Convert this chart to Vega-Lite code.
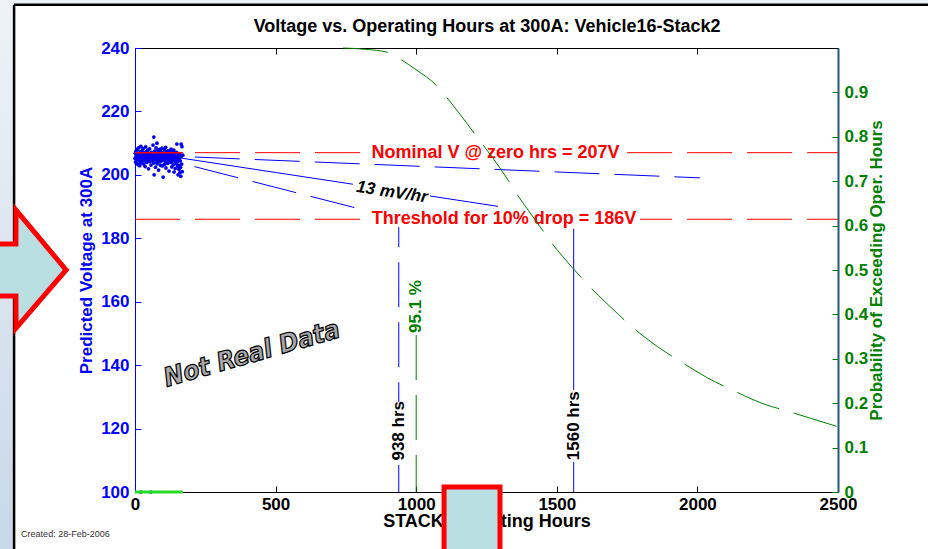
{
"$schema":"https://vega.github.io/schema/vega-lite/v6.json",
"width":703,"height":444,
"autosize":{"type":"none"},
"padding":{"left":135,"top":48,"right":90,"bottom":57},
"background":"white",
"config":{"font":"Liberation Sans","view":{"stroke":null},
 "axis":{"grid":false,"labelFont":"Liberation Sans","titleFont":"Liberation Sans","labelFontWeight":"bold","labelFontSize":17,"titleFontWeight":"bold","labelFlush":false,"labelOverlap":false,"tickSize":-6,"tickWidth":1,"domainWidth":1}},
"datasets":{
 "boxes":[
  {"k":"left","h":-560,"h2":-430,"v":270,"v2":60},
  {"k":"top","h":-430,"h2":2950,"v":270,"v2":253.6},
  {"k":"cover","h":1099,"h2":1298,"v":101.6,"v2":70}
 ],
 "frame":[
  {"h":-430,"h2":-430,"v":253.6,"v2":60},
  {"h":-430,"h2":2950,"v":253.6,"v2":253.6}
 ],
 "arrow":[
  {"h":-500,"v":178.2,"v2":161.8},
  {"h":-423.5,"v":178.2,"v2":161.8},
  {"h":-423,"v":188.9,"v2":151.7},
  {"h":-245,"v":170.0,"v2":170.0}
 ],
 "segs":[
  {"s":"nomA","h":0,"v":207,"h2":818,"v2":207},
  {"s":"nomB","h":1750,"v":207,"h2":2500,"v2":207},
  {"s":"thrA","h":0,"v":186,"h2":821,"v2":186},
  {"s":"thrB","h":1796,"v":186,"h2":2500,"v2":186},
  {"s":"red","h":0,"v":207,"h2":170,"v2":207},
  {"s":"fit1","h":160,"v":205.34,"h2":775,"v2":197.04},
  {"s":"fit2","h":1049,"v":193.34,"h2":1291,"v2":190.07},
  {"s":"v1560a","h":1560,"v":183,"h2":1560,"v2":132.2},
  {"s":"v1560b","h":1560,"v":109.5,"h2":1560,"v2":100},
  {"s":"up","h":170,"v":205.78,"h2":2009,"v2":199.05},
  {"s":"lo","h":170,"v":203.54,"h2":830,"v2":188.56},
  {"s":"v938a","h":938,"v":183.5,"h2":938,"v2":128.4},
  {"s":"v938b","h":938,"v":108.5,"h2":938,"v2":100},
  {"s":"g1000","h":1000,"v":149.5,"h2":1000,"v2":100},
  {"s":"lime","h":0,"v":100,"h2":170,"v2":100}
 ],
 "labels":[
  {"k":"title","h":1252,"v":246.5,"t":"Voltage vs. Operating Hours at 300A: Vehicle16-Stack2"},
  {"k":"red","h":1282,"v":207,"t":"Nominal V @ zero hrs = 207V"},
  {"k":"red","h":1312,"v":186,"t":"Threshold for 10% drop = 186V"},
  {"k":"slope","h":914,"v":194.5,"t":"13 mV/hr"},
  {"k":"vert","h":938,"v":119.3,"t":"938 hrs"},
  {"k":"vert","h":1560,"v":120.9,"t":"1560 hrs"},
  {"k":"green","h":1000,"v":158.5,"t":"95.1 %"},
  {"k":"wm","h":416,"v":143.5,"t":"Not Real Data"},
  {"k":"created","h":-405,"v":86.75,"t":"Created: 28-Feb-2006"}
 ],
 "prob":[
  {"h":740,"p":1.0},{"h":820,"p":0.997},{"h":900,"p":0.990},{"h":948,"p":0.973},{"h":1000,"p":0.951},
  {"h":1073,"p":0.915},{"h":1108,"p":0.889},{"h":1203,"p":0.811},{"h":1322,"p":0.707},{"h":1351,"p":0.678},
  {"h":1440,"p":0.598},{"h":1470,"p":0.571},{"h":1560,"p":0.502},{"h":1606,"p":0.470},{"h":1719,"p":0.400},
  {"h":1760,"p":0.376},{"h":1885,"p":0.316},{"h":1932,"p":0.297},{"h":2063,"p":0.248},{"h":2110,"p":0.234},
  {"h":2246,"p":0.196},{"h":2294,"p":0.187},{"h":2500,"p":0.147}
 ],
 "scatter":[
  {"h":0,"v":205.2},{"h":1,"v":206.8},{"h":2,"v":204.1},{"h":3,"v":207.5},{"h":4,"v":205.9},{"h":5,"v":203.6},{"h":6,"v":206.3},{"h":7,"v":208.1},{"h":8,"v":204.8},{"h":9,"v":205.5},
  {"h":10,"v":207.9},{"h":11,"v":203.2},{"h":12,"v":206.0},{"h":13,"v":205.1},{"h":14,"v":208.6},{"h":15,"v":204.4},{"h":16,"v":206.7},{"h":17,"v":202.9},{"h":18,"v":205.8},{"h":19,"v":207.2},
  {"h":20,"v":204.0},{"h":21,"v":209.0},{"h":22,"v":205.4},{"h":23,"v":206.9},{"h":24,"v":203.8},{"h":25,"v":207.6},{"h":26,"v":205.0},{"h":27,"v":204.6},{"h":28,"v":206.2},{"h":29,"v":208.3},
  {"h":30,"v":205.7},{"h":31,"v":203.4},{"h":32,"v":206.5},{"h":33,"v":204.9},{"h":34,"v":207.0},{"h":35,"v":205.3},{"h":36,"v":202.6},{"h":37,"v":206.1},{"h":38,"v":208.8},{"h":39,"v":204.3},
  {"h":40,"v":205.9},{"h":41,"v":207.4},{"h":42,"v":203.9},{"h":43,"v":206.6},{"h":44,"v":205.2},{"h":45,"v":204.7},{"h":46,"v":207.8},{"h":47,"v":205.6},{"h":48,"v":201.9},{"h":49,"v":206.4},
  {"h":50,"v":205.0},{"h":52,"v":208.2},{"h":53,"v":204.2},{"h":55,"v":206.8},{"h":56,"v":205.5},{"h":57,"v":203.1},{"h":58,"v":207.1},{"h":60,"v":205.8},{"h":61,"v":204.5},{"h":62,"v":206.3},
  {"h":64,"v":209.4},{"h":65,"v":205.1},{"h":66,"v":203.7},{"h":67,"v":211.9},{"h":68,"v":200.0},{"h":69,"v":206.0},{"h":70,"v":207.5},{"h":71,"v":204.8},{"h":72,"v":205.9},{"h":73,"v":202.4},
  {"h":74,"v":206.7},{"h":75,"v":208.5},{"h":76,"v":204.0},{"h":77,"v":205.4},{"h":78,"v":210.0},{"h":79,"v":203.5},{"h":80,"v":206.2},{"h":81,"v":205.0},{"h":82,"v":207.7},{"h":83,"v":204.6},
  {"h":84,"v":201.5},{"h":85,"v":206.9},{"h":86,"v":205.3},{"h":87,"v":208.0},{"h":88,"v":204.1},{"h":89,"v":206.5},{"h":90,"v":205.7},{"h":91,"v":203.0},{"h":92,"v":207.3},{"h":93,"v":205.2},
  {"h":94,"v":204.4},{"h":95,"v":206.1},{"h":96,"v":208.4},{"h":97,"v":202.8},{"h":98,"v":205.8},{"h":99,"v":207.0},{"h":100,"v":199.3},{"h":101,"v":204.9},{"h":102,"v":206.6},{"h":103,"v":205.4},
  {"h":104,"v":203.3},{"h":105,"v":207.9},{"h":106,"v":205.0},{"h":107,"v":204.3},{"h":108,"v":206.4},{"h":109,"v":208.7},{"h":110,"v":202.2},{"h":111,"v":205.6},{"h":112,"v":207.2},{"h":113,"v":204.7},
  {"h":114,"v":206.0},{"h":115,"v":203.6},{"h":116,"v":205.9},{"h":117,"v":207.6},{"h":118,"v":204.0},{"h":119,"v":205.3},{"h":120,"v":206.8},{"h":121,"v":201.2},{"h":122,"v":205.1},{"h":123,"v":207.4},
  {"h":124,"v":204.5},{"h":125,"v":206.3},{"h":126,"v":203.9},{"h":127,"v":205.7},{"h":128,"v":208.1},{"h":129,"v":204.2},{"h":130,"v":206.5},{"h":131,"v":202.5},{"h":132,"v":205.0},{"h":133,"v":207.0},
  {"h":134,"v":204.8},{"h":135,"v":206.2},{"h":136,"v":203.2},{"h":137,"v":205.5},{"h":138,"v":207.8},{"h":139,"v":200.9},{"h":140,"v":206.0},{"h":141,"v":204.3},{"h":142,"v":205.8},{"h":143,"v":202.0},
  {"h":144,"v":206.9},{"h":145,"v":204.6},{"h":146,"v":205.2},{"h":147,"v":203.5},{"h":148,"v":207.1},{"h":149,"v":209.7},{"h":150,"v":204.0},{"h":151,"v":205.6},{"h":152,"v":202.7},{"h":153,"v":200.0},
  {"h":154,"v":206.4},{"h":155,"v":204.9},{"h":156,"v":201.8},{"h":157,"v":205.3},{"h":158,"v":203.0},{"h":159,"v":206.7},{"h":160,"v":200.8},{"h":161,"v":204.4},{"h":162,"v":202.3},{"h":163,"v":199.6},
  {"h":164,"v":209.7},{"h":165,"v":205.9},{"h":166,"v":203.4},{"h":167,"v":208.9},{"h":168,"v":201.0},{"h":170,"v":206.2},
  {"h":20,"v":100},{"h":56,"v":100}
 ]
},
"encoding":{"x":{"field":"h","type":"quantitative","scale":{"domain":[0,2500],"nice":false,"zero":false},
 "axis":{"orient":"bottom","values":[0,500,1000,1500,2000,2500],"format":"d","title":"STACK Operating Hours","titleFontSize":18,"titleColor":"black","titlePadding":0,"labelColor":"black","labelPadding":10,"domainColor":"black","tickColor":"black"}}},
"layer":[
 {"encoding":{"y":{"field":"v","type":"quantitative","scale":{"domain":[100,240],"nice":false,"zero":false},
   "axis":{"orient":"left","values":[100,120,140,160,180,200,220,240],"title":"Predicted Voltage at 300A","titleColor":"#0000ff","titleFontSize":17,"titlePadding":5,"labelColor":"#0000ff","labelPadding":12,"domainColor":"#0000ff","tickColor":"#0000ff"}}},
  "layer":[
   {"data":{"name":"boxes"},"transform":[{"filter":"datum.k==='left'"}],
    "mark":{"type":"rect","fill":{"gradient":"linear","x1":0,"y1":0,"x2":0,"y2":1,"stops":[{"offset":0,"color":"#f2f5f8"},{"offset":1,"color":"#c3d4e6"}]}},
    "encoding":{"x2":{"field":"h2"},"y2":{"field":"v2"}}},
   {"data":{"name":"boxes"},"transform":[{"filter":"datum.k==='top'"}],
    "mark":{"type":"rect","fill":"#eef2f6"},
    "encoding":{"x2":{"field":"h2"},"y2":{"field":"v2"}}},
   {"data":{"name":"frame"},"mark":{"type":"rule","color":"black","strokeWidth":2.5},
    "encoding":{"x2":{"field":"h2"},"y2":{"field":"v2"}}},
   {"data":{"name":"arrow"},"mark":{"type":"area","fill":"#b9dfe2","stroke":"#ff0000","strokeWidth":5,"strokeJoin":"miter","opacity":1,"fillOpacity":1},
    "encoding":{"y2":{"field":"v2"}}},
   {"data":{"name":"segs"},"transform":[{"filter":{"field":"s","oneOf":["nomA","nomB","thrA"]}}],
    "mark":{"type":"rule","color":"#ff0000","strokeWidth":1,"strokeDash":[45,15]},
    "encoding":{"x2":{"field":"h2"},"y2":{"field":"v2"}}},
   {"data":{"name":"segs"},"transform":[{"filter":{"field":"s","oneOf":["thrB"]}}],
    "mark":{"type":"rule","color":"#ff0000","strokeWidth":1,"strokeDash":[45,15],"strokeDashOffset":13},
    "encoding":{"x2":{"field":"h2"},"y2":{"field":"v2"}}},
   {"data":{"name":"scatter"},"mark":{"type":"point","filled":true,"size":14,"color":"#0000ee","opacity":1},"encoding":{}},
   {"data":{"name":"segs"},"transform":[{"filter":{"field":"s","oneOf":["red"]}}],
    "mark":{"type":"rule","color":"#ff0000","strokeWidth":1.5},
    "encoding":{"x2":{"field":"h2"},"y2":{"field":"v2"}}},
   {"data":{"name":"segs"},"transform":[{"filter":{"field":"s","oneOf":["fit1","fit2","v1560a","v1560b"]}}],
    "mark":{"type":"rule","color":"#0000ff","strokeWidth":1},
    "encoding":{"x2":{"field":"h2"},"y2":{"field":"v2"}}},
   {"data":{"name":"segs"},"transform":[{"filter":{"field":"s","oneOf":["up","lo"]}}],
    "mark":{"type":"rule","color":"#0000ff","strokeWidth":1,"strokeDash":[45,15],"strokeDashOffset":48},
    "encoding":{"x2":{"field":"h2"},"y2":{"field":"v2"}}},
   {"data":{"name":"segs"},"transform":[{"filter":{"field":"s","oneOf":["v938a"]}}],
    "mark":{"type":"rule","color":"#0000ff","strokeWidth":1,"strokeDash":[45,15],"strokeDashOffset":25},
    "encoding":{"x2":{"field":"h2"},"y2":{"field":"v2"}}},
   {"data":{"name":"segs"},"transform":[{"filter":{"field":"s","oneOf":["v938b"]}}],
    "mark":{"type":"rule","color":"#0000ff","strokeWidth":1,"strokeDash":[45,15]},
    "encoding":{"x2":{"field":"h2"},"y2":{"field":"v2"}}},
   {"data":{"name":"segs"},"transform":[{"filter":{"field":"s","oneOf":["g1000"]}}],
    "mark":{"type":"rule","color":"#008000","strokeWidth":1,"strokeDash":[45,15]},
    "encoding":{"x2":{"field":"h2"},"y2":{"field":"v2"}}},
   {"data":{"name":"segs"},"transform":[{"filter":{"field":"s","oneOf":["lime"]}}],
    "mark":{"type":"rule","color":"#22dd22","strokeWidth":3},
    "encoding":{"x2":{"field":"h2"},"y2":{"field":"v2"}}},
   {"data":{"name":"labels"},"transform":[{"filter":"datum.k==='title'"}],
    "mark":{"type":"text","color":"black","fontSize":18,"fontWeight":"bold","align":"center","baseline":"middle"},
    "encoding":{"text":{"field":"t"}}},
   {"data":{"name":"labels"},"transform":[{"filter":"datum.k==='red'"}],
    "mark":{"type":"text","color":"#ff0000","fontSize":18,"fontWeight":"bold","align":"center","baseline":"middle"},
    "encoding":{"text":{"field":"t"}}},
   {"data":{"name":"labels"},"transform":[{"filter":"datum.k==='slope'"}],
    "mark":{"type":"text","color":"black","fontSize":17,"fontWeight":"bold","fontStyle":"italic","angle":8.6,"align":"center","baseline":"middle"},
    "encoding":{"text":{"field":"t"}}},
   {"data":{"name":"labels"},"transform":[{"filter":"datum.k==='vert'"}],
    "mark":{"type":"text","color":"black","fontSize":17,"fontWeight":"bold","angle":270,"align":"center","baseline":"middle"},
    "encoding":{"text":{"field":"t"}}},
   {"data":{"name":"labels"},"transform":[{"filter":"datum.k==='green'"}],
    "mark":{"type":"text","color":"#008000","fontSize":17,"fontWeight":"bold","angle":270,"align":"center","baseline":"middle"},
    "encoding":{"text":{"field":"t"}}},
   {"data":{"name":"labels"},"transform":[{"filter":"datum.k==='wm'"}],
    "mark":{"type":"text","font":"Liberation Sans Narrow, DejaVu Sans Condensed, Liberation Sans","fill":"#a8a8a8","stroke":"#000000","strokeWidth":1.2,"fontSize":26,"fontWeight":"bold","fontStyle":"italic","angle":-16,"align":"center","baseline":"middle"},
    "encoding":{"text":{"field":"t"}}},
   {"data":{"name":"labels"},"transform":[{"filter":"datum.k==='created'"}],
    "mark":{"type":"text","color":"#333333","fontSize":9,"align":"left","baseline":"middle"},
    "encoding":{"text":{"field":"t"}}},
   {"data":{"name":"boxes"},"transform":[{"filter":"datum.k==='cover'"}],
    "mark":{"type":"rect","fill":"#b9dfe2","stroke":"#ff0000","strokeWidth":5},
    "encoding":{"x2":{"field":"h2"},"y2":{"field":"v2"}}}
  ]
 },
 {"data":{"name":"prob"},
  "mark":{"type":"line","color":"#008000","strokeWidth":1,"strokeDash":[45,15],"interpolate":"monotone"},
  "encoding":{
   "x":{"field":"h","type":"quantitative","scale":{"domain":[0,2500],"nice":false,"zero":false},
    "axis":{"orient":"top","values":[0,500,1000,1500,2000,2500],"labels":false,"title":null,"domainColor":"black","tickColor":"black"}},
   "y":{"field":"p","type":"quantitative","scale":{"domain":[0,1],"nice":false,"zero":false},
    "axis":{"orient":"right","values":[0,0.1,0.2,0.3,0.4,0.5,0.6,0.7,0.8,0.9],"format":"~g","title":"Probability of Exceeding Oper. Hours","titleColor":"#008000","titleFontSize":17,"titleAngle":270,"titleBaseline":"top","titlePadding":1,"labelColor":"#008000","labelPadding":12,"domainColor":"#205a78","domainWidth":2,"tickColor":"#008000"}}
  }
 }
],
"resolve":{"scale":{"y":"independent"}}
}
